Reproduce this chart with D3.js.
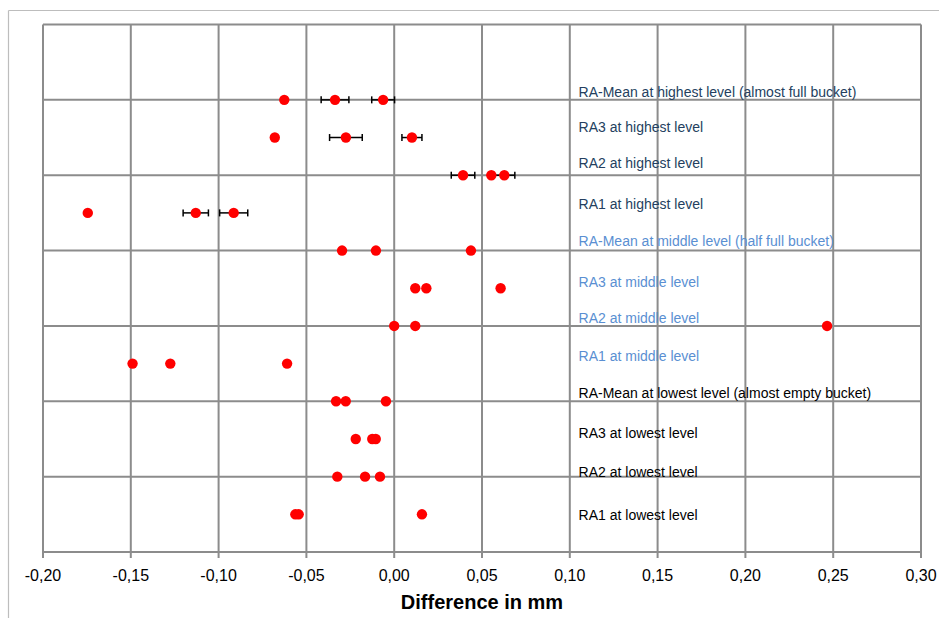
<!DOCTYPE html>
<html lang="en">
<head>
<meta charset="utf-8">
<title>Difference in mm</title>
<script src="https://d3js.org/d3.v7.min.js"></script>
<style>
  body { margin: 0; background: #fff; font-family: "Liberation Sans", Arial, sans-serif; }
  .grid line { stroke: #8c8c8c; stroke-width: 2; }
</style>
</head>
<body>
<div id="chart"></div>
<script>
// rows, from top (12) to bottom (1)
var rowLabels = [
  "RA-Mean at highest level (almost full bucket)",
  "RA3 at highest level",
  "RA2 at highest level",
  "RA1 at highest level",
  "RA-Mean at middle level (half full bucket)",
  "RA3 at middle level",
  "RA2 at middle level",
  "RA1 at middle level",
  "RA-Mean at lowest level (almost empty bucket)",
  "RA3 at lowest level",
  "RA2 at lowest level",
  "RA1 at lowest level"
]
var rowY   = [12, 11, 10, 9, 8, 7, 6, 5, 4, 3, 2, 1]
var labelY = [12.2, 11.27, 10.32, 9.23, 8.25, 7.16, 6.21, 5.2, 4.22, 3.16, 2.12, 0.98]
var labelX = 0.105
var rowLevel = ["high","high","high","high","mid","mid","mid","mid","low","low","low","low"]

// three measurements per row
var seriesA = [-0.0626, -0.068, 0.0392, -0.1745, -0.0297, 0.012, 0.0, -0.149, -0.0331, -0.0219, -0.0324, -0.0563]
var seriesB = [-0.0337, -0.0275, 0.0553, -0.113, -0.0104, 0.0183, 0.012, -0.1275, -0.0276, -0.0125, -0.0166, -0.0544]
var seriesC = [-0.0063, 0.0101, 0.0627, -0.0914, 0.0437, 0.0606, 0.2465, -0.061, -0.0047, -0.0105, -0.0081, 0.0158]
var errA = [0, 0, 0.0067, 0, 0, 0, 0, 0, 0, 0, 0, 0]
var errB = [0.0079, 0.0093, 0, 0.0072, 0, 0, 0, 0, 0, 0, 0, 0]
var errC = [0.0065, 0.0057, 0.006, 0.008, 0, 0, 0, 0, 0, 0, 0, 0]

var xTicks = [-0.20, -0.15, -0.10, -0.05, 0.00, 0.05, 0.10, 0.15, 0.20, 0.25, 0.30]
var yTicks = [0, 2, 4, 6, 8, 10, 12, 14]

var levelColor = { high: "#243f60", mid: "#5a8fd2", low: "#000000" }

var w = 939, h = 618
var pLeft = 43, pRight = 921, pTop = 24.5, pBottom = 552

var xScale = d3.scaleLinear().domain([-0.20, 0.30]).range([pLeft, pRight])
var yScale = d3.scaleLinear().domain([0, 14]).range([pBottom, pTop])

var svg = d3.select("#chart").append("svg").attr("width", w).attr("height", h)

// outer chart frame
svg.append("line").attr("x1", 8.5).attr("x2", w).attr("y1", 10.5).attr("y2", 10.5)
  .attr("stroke", "#bdbdbd").attr("stroke-width", 1.2)
svg.append("line").attr("x1", 8.5).attr("x2", 8.5).attr("y1", 10.5).attr("y2", h)
  .attr("stroke", "#bdbdbd").attr("stroke-width", 1.2)

// gridlines
var grid = svg.append("g").attr("class", "grid")
grid.selectAll(".vg").data(xTicks).enter().append("line")
  .attr("x1", d => xScale(d)).attr("x2", d => xScale(d))
  .attr("y1", pTop).attr("y2", pBottom + 6)
grid.selectAll(".hg").data(yTicks).enter().append("line")
  .attr("x1", pLeft).attr("x2", pRight)
  .attr("y1", d => yScale(d)).attr("y2", d => yScale(d))

// x axis labels
var fmt = d => d3.format(".2f")(d).replace("−", "-").replace(".", ",")
svg.append("g").selectAll("text").data(xTicks).enter().append("text")
  .attr("x", d => xScale(d)).attr("y", 581)
  .attr("text-anchor", "middle")
  .attr("font-size", 16).attr("fill", "#000")
  .text(fmt)

svg.append("text").attr("x", 482).attr("y", 609)
  .attr("text-anchor", "middle").attr("font-size", 20).attr("font-weight", "bold")
  .text("Difference in mm")

// row labels
svg.append("g").selectAll("text").data(rowLabels).enter().append("text")
  .attr("x", xScale(labelX)).attr("y", (d, i) => yScale(labelY[i]))
  .attr("dy", "0.35em").attr("font-size", 14)
  .attr("fill", (d, i) => levelColor[rowLevel[i]])
  .text(d => d)

// points
var pts = []
;[[seriesA, errA], [seriesB, errB], [seriesC, errC]].forEach(function(s) {
  s[0].forEach(function(v, i) { pts.push({ x: v, y: rowY[i], e: s[1][i] }) })
})

var eb = svg.append("g").attr("stroke", "#000").attr("stroke-width", 1.5)
pts.filter(d => d.e > 0).forEach(function(d) {
  var cy = yScale(d.y)
  var x0 = xScale(d.x - d.e), x1 = xScale(d.x + d.e)
  eb.append("line").attr("x1", x0).attr("x2", x1).attr("y1", cy).attr("y2", cy)
  eb.append("line").attr("x1", x0).attr("x2", x0).attr("y1", cy - 3.5).attr("y2", cy + 3.5)
  eb.append("line").attr("x1", x1).attr("x2", x1).attr("y1", cy - 3.5).attr("y2", cy + 3.5)
})

svg.append("g").selectAll("circle").data(pts).enter().append("circle")
  .attr("cx", d => xScale(d.x)).attr("cy", d => yScale(d.y))
  .attr("r", 5.2).attr("fill", "#ff0000")
</script>
</body>
</html>
